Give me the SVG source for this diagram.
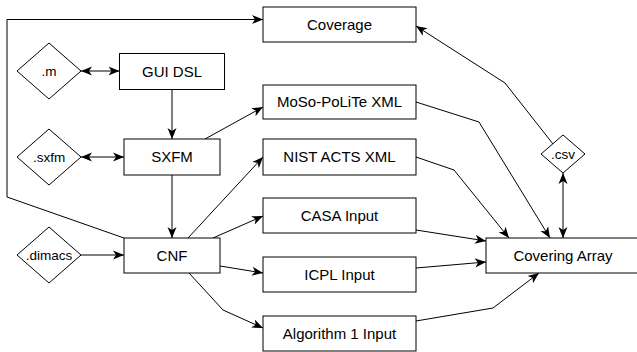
<svg xmlns="http://www.w3.org/2000/svg" width="637" height="352" viewBox="0 0 637 352">
<defs>
<style>
.box{fill:#fff;stroke:#000;stroke-width:1}
.lbl{font-family:"Liberation Sans",Arial,sans-serif;font-size:15px;text-anchor:middle;fill:#000}
.sm{font-family:"Liberation Sans",Arial,sans-serif;font-size:13.5px;text-anchor:middle;fill:#000}
.c{fill:none;stroke:#000;stroke-width:1}
.a{marker-end:url(#arr)}
.d{marker-start:url(#arr);marker-end:url(#arr)}
</style>
<marker id="arr" markerUnits="userSpaceOnUse" markerWidth="12" markerHeight="10" refX="11" refY="4.5" orient="auto-start-reverse" viewBox="0 0 12 9">
<path d="M0,0 L11,4.5 L0,9 L3,4.5 Z" fill="#000"/>
</marker>
</defs>
<rect width="637" height="352" fill="#fff"/>
<g id="connectors">
<path class="c a" d="M124,238 L7,197 L7,19.5 L263,19.5"/>
<path class="c d" d="M81,71 L119.5,71"/>
<path class="c a" d="M172,89.5 L172,139"/>
<path class="c d" d="M81,157 L124,157"/>
<path class="c a" d="M205,139 L263,107"/>
<path class="c a" d="M172,175 L172,238"/>
<path class="c a" d="M81,255 L124,255"/>
<path class="c a" d="M188,238 L263,157"/>
<path class="c a" d="M213,238 L263,216"/>
<path class="c a" d="M220,266 L263,273"/>
<path class="c a" d="M189,273 L223,310 L263,328"/>
<path class="c a" d="M553,144 L505,83 L416,26"/>
<path class="c a" d="M416,102 L479,122 L550,238"/>
<path class="c a" d="M416,157 L454,170 L509,238"/>
<path class="c d" d="M563,173 L563,238"/>
<path class="c a" d="M416,230 L486,241"/>
<path class="c a" d="M416,268 L486,262"/>
<path class="c a" d="M416,321 L493,308 L539,273"/>
</g>
<g id="coverage"><rect class="box" x="263" y="7" width="153" height="35"/><text class="lbl" x="339.5" y="29.5">Coverage</text></g>
<g id="m"><polygon class="box" points="49,43 81,71 49,99 17,71"/><text class="sm" x="49" y="76">.m</text></g>
<g id="guidsl"><rect class="box" x="119.5" y="53.5" width="105" height="36"/><text class="lbl" x="172" y="76.5">GUI DSL</text></g>
<g id="sxfmfile"><polygon class="box" points="49,129 81,157 49,185 17,157"/><text class="sm" x="49" y="162">.sxfm</text></g>
<g id="sxfm"><rect class="box" x="124" y="139" width="96" height="36"/><text class="lbl" x="172" y="162">SXFM</text></g>
<g id="moso"><rect class="box" x="263" y="85" width="153" height="34"/><text class="lbl" x="339.5" y="107">MoSo-PoLiTe XML</text></g>
<g id="nist"><rect class="box" x="263" y="139" width="153" height="36"/><text class="lbl" x="339.5" y="162">NIST ACTS XML</text></g>
<g id="dimacs"><polygon class="box" points="49,227 81,255 49,283 17,255"/><text class="sm" x="49" y="260">.dimacs</text></g>
<g id="cnf"><rect class="box" x="124" y="238" width="96" height="35"/><text class="lbl" x="172" y="260.5">CNF</text></g>
<g id="casa"><rect class="box" x="263" y="198" width="153" height="35"/><text class="lbl" x="339.5" y="220.5">CASA Input</text></g>
<g id="icpl"><rect class="box" x="263" y="257" width="153" height="35"/><text class="lbl" x="339.5" y="279.5">ICPL Input</text></g>
<g id="alg1"><rect class="box" x="263" y="316" width="153" height="35"/><text class="lbl" x="339.5" y="338.5">Algorithm 1 Input</text></g>
<g id="csv"><polygon class="box" points="563,135 585,154 563,173 541,154"/><text class="sm" x="563" y="159">.csv</text></g>
<g id="coveringarray"><rect class="box" x="486" y="238" width="160" height="35"/><text class="lbl" x="563" y="260.5">Covering Array</text></g>
</svg>
